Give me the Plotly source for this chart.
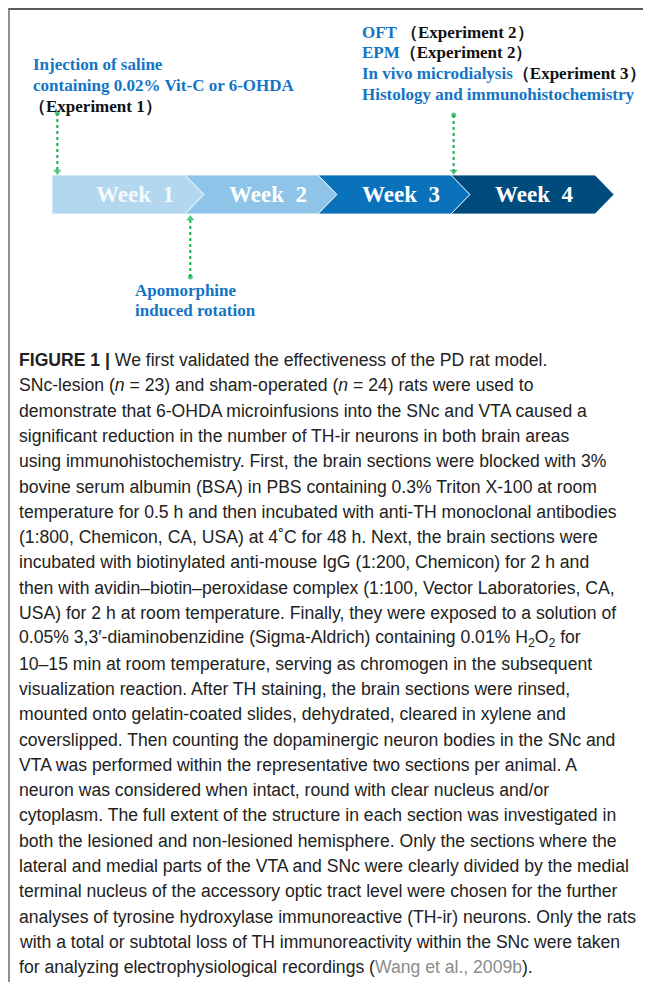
import plotly.graph_objects as go

# ---------------- data ----------------
weeks = ["Week\u00a0 1", "Week\u00a0 2", "Week\u00a0 3", "Week\u00a0 4"]
week_colors = ["#b3d7ee", "#8ec4e7", "#0a72ba", "#004b7e"]
week_text_colors = ["rgba(255,255,255,0.88)", "#ffffff", "#ffffff", "#ffffff"]

BLUE = "#1474c4"
left_event_lines = [
    f"<span style='color:{BLUE}'>Injection of saline</span>",
    f"<span style='color:{BLUE}'>containing 0.02% Vit-C or 6-OHDA</span>",
    "（Experiment 1）",
]
right_event_lines = [
    f"<span style='color:{BLUE}'>OFT</span> （Experiment 2）",
    f"<span style='color:{BLUE}'>EPM</span>（Experiment 2）",
    f"<span style='color:{BLUE}'>In vivo microdialysis</span>（Experiment 3）",
    f"<span style='color:{BLUE}'>Histology and immunohistochemistry</span>",
]
bottom_event_lines = [
    f"<span style='color:{BLUE}'>Apomorphine</span>",
    f"<span style='color:{BLUE}'>induced rotation</span>",
]
# event times in weeks (position along the timeline)
event_times = {"left": 0.04, "bottom": 1.04, "right": 3.02}

caption_lines = [
    "<b>FIGURE 1 |</b> We first validated the effectiveness of the PD rat model.",
    "SNc-lesion (<i>n</i> = 23) and sham-operated (<i>n</i> = 24) rats were used to",
    "demonstrate that 6-OHDA microinfusions into the SNc and VTA caused a",
    "significant reduction in the number of TH-ir neurons in both brain areas",
    "using immunohistochemistry. First, the brain sections were blocked with 3%",
    "bovine serum albumin (BSA) in PBS containing 0.3% Triton X-100 at room",
    "temperature for 0.5 h and then incubated with anti-TH monoclonal antibodies",
    "(1:800, Chemicon, CA, USA) at 4˚C for 48 h. Next, the brain sections were",
    "incubated with biotinylated anti-mouse IgG (1:200, Chemicon) for 2 h and",
    "then with avidin–biotin–peroxidase complex (1:100, Vector Laboratories, CA,",
    "USA) for 2 h at room temperature. Finally, they were exposed to a solution of",
    "0.05% 3,3′-diaminobenzidine (Sigma-Aldrich) containing 0.01% H<sub>2</sub>O<sub>2</sub> for",
    "10–15 min at room temperature, serving as chromogen in the subsequent",
    "visualization reaction. After TH staining, the brain sections were rinsed,",
    "mounted onto gelatin-coated slides, dehydrated, cleared in xylene and",
    "coverslipped. Then counting the dopaminergic neuron bodies in the SNc and",
    "VTA was performed within the representative two sections per animal. A",
    "neuron was considered when intact, round with clear nucleus and/or",
    "cytoplasm. The full extent of the structure in each section was investigated in",
    "both the lesioned and non-lesioned hemisphere. Only the sections where the",
    "lateral and medial parts of the VTA and SNc were clearly divided by the medial",
    "terminal nucleus of the accessory optic tract level were chosen for the further",
    "analyses of tyrosine hydroxylase immunoreactive (TH-ir) neurons. Only the rats",
    "with a total or subtotal loss of TH immunoreactivity within the SNc were taken",
    "for analyzing electrophysiological recordings (<span style='color:#8c8c8c'>Wang et al., 2009b</span>).",
]

# ---------------- layout params ----------------
W, H = 651, 982
OFF = 8  # default page margin: data coordinates = page pixels
X0, SEG_W, DEPTH = 52, 133, 19
SEG_LENGTHS = [SEG_W, SEG_W, SEG_W, SEG_W + 11]
TOP, BOT = 175, 214
MID = (TOP + BOT) / 2
SERIF = "Liberation Serif, Times New Roman, serif"
SANS = "Liberation Sans, Arial, sans-serif"

fig = go.Figure()
shapes = []
annotations = []

# frame border
shapes.append(dict(type="line", x0=8.5, x1=W, y0=9, y1=9, xref="x", yref="y",
                   line=dict(color="#5a5a5a", width=2)))
shapes.append(dict(type="line", x0=9, x1=9, y0=8, y1=H, xref="x", yref="y",
                   line=dict(color="#6a6a6a", width=1.5)))

# chevrons
s = X0
for i, (lab, col, tcol) in enumerate(zip(weeks, week_colors, week_text_colors)):
    e = s + SEG_LENGTHS[i]
    if i == 0:
        path = f"M{s},{TOP} L{e},{TOP} L{e+DEPTH},{MID} L{e},{BOT} L{s},{BOT} Z"
    else:
        path = (f"M{s},{TOP} L{e},{TOP} L{e+DEPTH},{MID} L{e},{BOT} L{s},{BOT} "
                f"L{s+DEPTH},{MID} Z")
    shapes.append(dict(type="path", path=path, xref="x", yref="y",
                       fillcolor=col, line=dict(color="rgba(255,255,255,0.8)", width=1),
                       layer="below"))
    annotations.append(dict(x=s + 83, y=MID, xref="x", yref="y", text=f"<b>{lab}</b>",
                            showarrow=False, xanchor="center", yanchor="middle",
                            font=dict(family=SERIF, size=23, color=tcol)))
    s = e

GREEN = "#10b04a"

def arrow(x, y_dot, y_tip, down=True):
    head_y = y_tip - 3.5 if down else y_tip + 3.5
    fig.add_trace(go.Scatter(x=[x, x], y=[y_dot, head_y], mode="lines",
                             line=dict(color=GREEN, width=2, dash="dot"),
                             hoverinfo="skip", showlegend=False))
    fig.add_trace(go.Scatter(x=[x, x], y=[y_dot, head_y], mode="markers",
                             marker=dict(symbol=["circle", "triangle-down" if down else "triangle-up"],
                                         size=[5, 7], color=GREEN, line=dict(width=0)),
                             hoverinfo="skip", showlegend=False))

# event arrows
xl = X0 + event_times["left"] * SEG_W
xr = X0 + event_times["right"] * SEG_W
xb = X0 + event_times["bottom"] * SEG_W
arrow(xl, 113, TOP, down=True)
arrow(xr, 115, TOP, down=True)
arrow(xb, 277, BOT + 1, down=False)

# event texts
for k, line in enumerate(left_event_lines):
    annotations.append(dict(x=31 if k < 2 else 27, y=64 + 21 * k, xref="x", yref="y",
                            text=f"<b>{line}</b>", showarrow=False,
                            xanchor="left", yanchor="middle",
                            font=dict(family=SERIF, size=17, color="#111111")))
for k, line in enumerate(right_event_lines):
    annotations.append(dict(x=360, y=32 + 20.7 * k, xref="x", yref="y",
                            text=f"<b>{line}</b>", showarrow=False,
                            xanchor="left", yanchor="middle",
                            font=dict(family=SERIF, size=17, color="#111111")))
for k, line in enumerate(bottom_event_lines):
    annotations.append(dict(x=133, y=290 + 20 * k, xref="x", yref="y",
                            text=f"<b>{line}</b>", showarrow=False,
                            xanchor="left", yanchor="middle",
                            font=dict(family=SERIF, size=17, color="#111111")))

# caption
for k, line in enumerate(caption_lines):
    annotations.append(dict(x=17, y=360 + 25.3 * k, xref="x", yref="y",
                            text=line, showarrow=False,
                            xanchor="left", yanchor="middle",
                            font=dict(family=SANS, size=17.6, color="#222222")))

fig.update_layout(
    width=W - OFF, height=H - OFF,
    margin=dict(l=0, r=0, t=0, b=0),
    paper_bgcolor="white", plot_bgcolor="white",
    xaxis=dict(range=[OFF, W], visible=False, fixedrange=True),
    yaxis=dict(range=[H, OFF], visible=False, fixedrange=True),
    shapes=shapes, annotations=annotations,
    showlegend=False,
)
fig.write_html("out.html")
